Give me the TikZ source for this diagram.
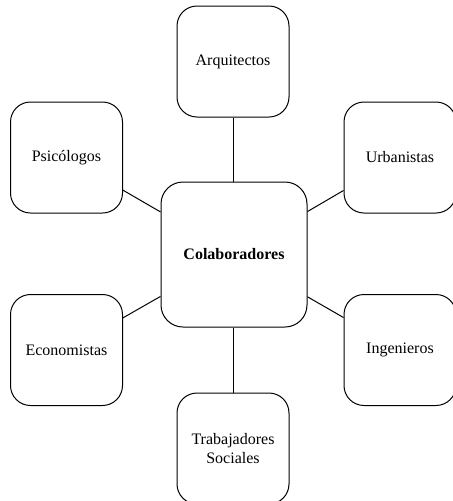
\documentclass[tikz,border=0pt]{standalone}
\usepackage{fontspec}
\setmainfont{Liberation Serif}
\begin{document}
\begin{tikzpicture}[x=0.75pt,y=-0.75pt,
  box/.style={draw, line width=0.75pt, rounded corners=15pt, minimum width=84pt, minimum height=83.25pt, inner sep=0pt, align=center, font=\fontsize{12}{14}\selectfont},
  hub/.style={box, rounded corners=16.5pt, minimum width=109.5pt, minimum height=108.75pt, font=\fontsize{12}{14}\selectfont\bfseries},
  link/.style={line width=0.75pt}]
\useasboundingbox (0,0) rectangle (453,501);
\node[hub] (c) at (234,254.5) {Colaboradores};
\node[box] (arq) at (233,61.5) {Arquitectos};
\node[box] (psi) at (66.5,157.5) {Psicólogos};
\node[box] (urb) at (400,157.5) {Urbanistas};
\node[box] (eco) at (66.5,350) {Economistas};
\node[box] (ing) at (400,350) {Ingenieros};
\node[box] (tra) at (233,448.5) {Trabajadores\\Sociales};
\draw[link] (c.north -| arq) -- (arq);
\draw[link] (c) -- (psi);
\draw[link] (c) -- (urb);
\draw[link] (c) -- (eco);
\draw[link] (c) -- (ing);
\draw[link] (c.south -| tra) -- (tra);
\end{tikzpicture}
\end{document}
